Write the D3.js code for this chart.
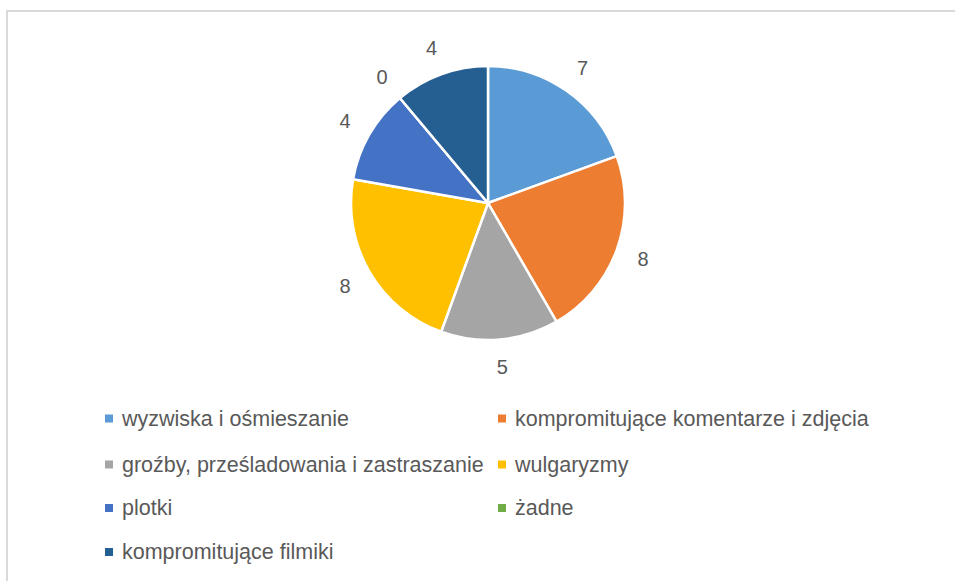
<!DOCTYPE html>
<html>
<head>
<meta charset="utf-8">
<script src="https://cdn.jsdelivr.net/npm/d3@7/dist/d3.min.js"></script>
<style>
  html, body { margin: 0; padding: 0; background: #fff; }
  svg { display: block; }
</style>
</head>
<body>
<svg id="chart" width="955" height="581"></svg>
<script>
// Categories and counts, clockwise from 12 o'clock
const categories = [
  "wyzwiska i ośmieszanie",
  "kompromitujące komentarze i zdjęcia",
  "groźby, prześladowania i zastraszanie",
  "wulgaryzmy",
  "plotki",
  "żadne",
  "kompromitujące filmiki"
];
const values = [7, 8, 5, 8, 4, 0, 4];
const colors = ["#5B9BD5", "#ED7D31", "#A5A5A5", "#FFC000", "#4472C4", "#70AD47", "#255E91"];

const svg = d3.select("#chart");
const font = "'Liberation Sans', Arial, sans-serif";

// Chart frame
svg.append("rect")
  .attr("x", 7).attr("y", 11)
  .attr("width", 960).attr("height", 600)
  .attr("fill", "none")
  .attr("stroke", "#d9d9d9")
  .attr("stroke-width", 2);

const cx = 488, cy = 203, r = 137, labelR = 165;

const data = categories.map((c, i) => ({ name: c, value: values[i], color: colors[i] }));

const pie = d3.pie().value(d => d.value).sort(null);
const arcs = pie(data);
const arc = d3.arc().innerRadius(0).outerRadius(r);
const labelArc = d3.arc().innerRadius(labelR).outerRadius(labelR);

const g = svg.append("g").attr("transform", `translate(${cx},${cy})`);

g.selectAll("path.slice")
  .data(arcs)
  .join("path")
  .attr("class", "slice")
  .attr("d", arc)
  .attr("fill", d => d.data.color)
  .attr("stroke", "#fff")
  .attr("stroke-width", 2.5)
  .attr("stroke-linejoin", "round");

g.selectAll("text.value")
  .data(arcs)
  .join("text")
  .attr("class", "value")
  .attr("transform", d => `translate(${labelArc.centroid(d)})`)
  .attr("text-anchor", "middle")
  .attr("dominant-baseline", "central")
  .attr("font-family", font)
  .attr("font-size", 20)
  .attr("fill", "#595959")
  .text(d => d.data.value);

// Legend: two columns, four rows
const colX = [105, 498];
const rowY = [418.5, 464.5, 508, 552];
const legend = svg.append("g");
const items = legend.selectAll("g.item")
  .data(data)
  .join("g")
  .attr("class", "item")
  .attr("transform", (d, i) => `translate(${colX[i % 2]},${rowY[Math.floor(i / 2)]})`);

items.append("rect")
  .attr("x", 0).attr("y", -4)
  .attr("width", 8).attr("height", 8)
  .attr("fill", d => d.color);

items.append("text")
  .attr("x", 17)
  .attr("y", 0)
  .attr("dominant-baseline", "central")
  .attr("font-family", font)
  .attr("font-size", 21.5)
  .attr("fill", "#595959")
  .text(d => d.name);
</script>
</body>
</html>
